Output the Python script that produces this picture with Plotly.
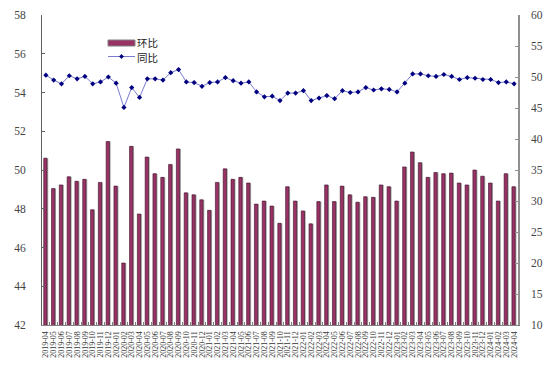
import plotly.graph_objects as go

months = [f"{y}-{m:02d}" for y in range(2019, 2025) for m in range(1, 13)]
months = months[months.index("2019-04"):months.index("2024-04") + 1]

huanbi = [50.61, 49.04, 49.23, 49.65, 49.42, 49.52, 47.95, 49.36, 51.47, 49.17,
          45.20, 51.22, 47.73, 50.67, 49.81, 49.62, 50.29, 51.09, 48.82, 48.72,
          48.46, 47.92, 49.36, 50.06, 49.52, 49.62, 49.33, 48.24, 48.40, 48.14,
          47.25, 49.14, 48.40, 47.89, 47.22, 48.37, 49.23, 48.37, 49.17, 48.72,
          48.34, 48.62, 48.59, 49.23, 49.14, 48.40, 50.16, 50.93, 50.38, 49.62,
          49.87, 49.81, 49.84, 49.33, 49.23, 50.00, 49.68, 49.33, 48.40, 49.81,
          49.14]

tongbi = [50.3, 49.5, 48.9, 50.2, 49.7, 50.1, 48.9, 49.2, 50.0, 49.0,
          45.1, 48.3, 46.7, 49.7, 49.7, 49.5, 50.7, 51.2, 49.2, 49.1,
          48.5, 49.1, 49.2, 49.9, 49.4, 49.0, 49.2, 47.6, 46.8, 46.9,
          46.2, 47.4, 47.4, 47.8, 46.2, 46.6, 47.0, 46.5, 47.8, 47.5,
          47.6, 48.3, 47.9, 48.1, 48.0, 47.6, 49.0, 50.5, 50.5, 50.2,
          50.1, 50.4, 50.1, 49.6, 49.9, 49.8, 49.6, 49.6, 49.1, 49.2,
          48.9]

series_names = ["环比", "同比"]
left_ticks = list(range(42, 59, 2))
right_ticks = list(range(10, 61, 5))

BAR_COLOR = "#993366"
LINE_COLOR = "#7a7ad0"
MARKER_COLOR = "#000080"

fig = go.Figure()
# bar shadow
fig.add_trace(go.Bar(x=months, y=huanbi, marker=dict(color="#a8a8a8", line=dict(width=0)),
                     width=0.42, offset=-0.12, showlegend=False, hoverinfo="skip"))
fig.add_trace(go.Bar(x=months, y=huanbi, name=series_names[0], showlegend=False,
                     marker=dict(color=BAR_COLOR, line=dict(color="#3a0f26", width=0.6)),
                     width=0.42, offset=-0.28))
fig.add_trace(go.Scatter(x=months, y=tongbi, name=series_names[1], yaxis="y2",
                         mode="lines+markers", showlegend=False,
                         line=dict(color=LINE_COLOR, width=1),
                         marker=dict(color=MARKER_COLOR, size=4, symbol="diamond")))

# plot area in page pixels: x 42..518, y 15..325
def px(x):
    return (x - 42) / 476.0

def py(y):
    return (325 - y) / 310.0

shapes = [
    dict(type="rect", xref="paper", yref="paper", x0=px(108), x1=px(135), y0=py(46), y1=py(40),
         fillcolor=BAR_COLOR, line=dict(color="#808080", width=1)),
    dict(type="line", xref="paper", yref="paper", x0=px(108), x1=px(135), y0=py(56.5), y1=py(56.5),
         line=dict(color=LINE_COLOR, width=1)),
    dict(type="path", xref="paper", yref="paper",
         path=f"M {px(121.5)} {py(54.3)} L {px(123.7)} {py(56.5)} L {px(121.5)} {py(58.7)} L {px(119.3)} {py(56.5)} Z",
         fillcolor=MARKER_COLOR, line=dict(color=MARKER_COLOR, width=0.5)),
]
annotations = [
    dict(xref="paper", yref="paper", x=px(136), y=py(42.5), text=series_names[0], showarrow=False,
         xanchor="left", yanchor="middle", borderpad=0,
         font=dict(family="Noto Sans CJK SC", size=10.5, color="#222")),
    dict(xref="paper", yref="paper", x=px(136), y=py(57.5), text=series_names[1], showarrow=False,
         xanchor="left", yanchor="middle", borderpad=0,
         font=dict(family="Noto Sans CJK SC", size=10.5, color="#222")),
]

fig.update_layout(
    width=555, height=375,
    # the page body adds an 8px offset; margins compensate so the plot area lands at x 42..518, y 15..325
    margin=dict(l=34, r=45, t=7, b=58, autoexpand=False),
    paper_bgcolor="white", plot_bgcolor="white",
    barmode="overlay",
    showlegend=False,
    shapes=shapes,
    annotations=annotations,
    xaxis=dict(type="category", tickangle=-90, showgrid=False, automargin=False,
               range=[-0.5, len(months) - 0.5],
               tickmode="array", tickvals=months, ticktext=months,
               showline=True, linecolor="#808080", linewidth=1,
               ticks="inside", ticklen=3, tickcolor="#808080",
               tickson="boundaries", ticklabelstandoff=2,
               tickfont=dict(family="Liberation Serif", size=8, color="#333")),
    yaxis=dict(range=[42, 58], tickvals=left_ticks, showgrid=False, zeroline=False,
               automargin=False,
               showline=True, linecolor="#606060", linewidth=1,
               ticks="inside", ticklen=3, tickcolor="#606060",
               ticklabelstandoff=13,
               tickfont=dict(family="Liberation Serif", size=11.5, color="#444")),
    yaxis2=dict(range=[10, 60], tickvals=right_ticks, overlaying="y", side="right",
                showgrid=False, zeroline=False, automargin=False,
                showline=True, linecolor="#909090", linewidth=1.5,
                ticks="inside", ticklen=3, tickcolor="#909090",
                ticklabelstandoff=9,
                tickfont=dict(family="Liberation Serif", size=11.5, color="#444")),
)

fig.write_html("out.html")
